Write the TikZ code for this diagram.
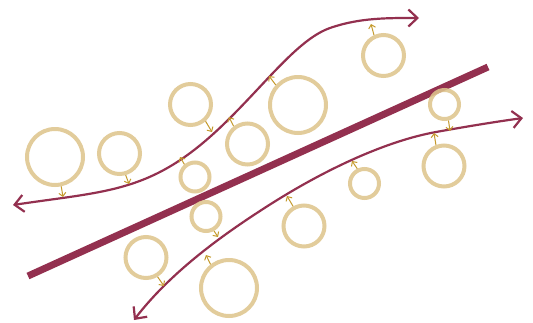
\documentclass[tikz,border=0pt]{standalone}
\usepackage{xcolor}
\usepackage{tikz}
\usetikzlibrary{arrows.meta}
\definecolor{maroon}{HTML}{93304F}
\definecolor{sand}{HTML}{DEC58D}
\definecolor{ochre}{HTML}{C49A2C}

\begin{document}
\begin{tikzpicture}[x=1pt, y=-1pt,
    ring/.style={circle, draw=sand, line width=4pt, inner sep=0pt, draw opacity=0.88},
    ringL/.style={ring, minimum size=56pt},
    ringM/.style={ring, minimum size=41pt},
    ringS/.style={ring, minimum size=29pt},
    flow/.style={maroon, line width=2.2pt,
        {Straight Barb[length=9pt, width=17pt]}-{Straight Barb[length=9pt, width=17pt]}},
    push/.style={ochre, line width=1pt, -{Straight Barb[length=3.5pt, width=7pt]}}]
    \useasboundingbox (0,0) rectangle (533,322);

    % =================================================================
    % 1. Thanh chéo ở giữa
    % =================================================================
    \draw[maroon, line width=7pt] (28,276) -- (488,67);

    % Hai đường dòng chảy (mũi tên hai đầu)
    \draw[flow] (13,205) .. controls (113,190) and (155,193) .. (230,118)
        .. controls (270,78) and (300,38.5) .. (330,28)
        .. controls (360,17.5) and (389,18) .. (419,18);
    \draw[flow] (134,320) .. controls (174,267.6) and (233,228.5) .. (263,209)
        .. controls (323,170) and (386,141) .. (436,132)
        .. controls (465,126.8) and (494,122) .. (523,118);

    % Các điểm chạm trên đường dòng chảy
    \coordinate (p1) at (63,197);
    \coordinate (p2) at (129,184);
    \coordinate (p3) at (212,132);
    \coordinate (p4) at (229,117);
    \coordinate (p5) at (269,76);
    \coordinate (p6) at (371,24);
    \coordinate (p7) at (450,131);
    \coordinate (p8) at (434,133);
    \coordinate (p9) at (352,161);
    \coordinate (p10) at (287,196);
    \coordinate (p11) at (180,157);
    \coordinate (p12) at (218,237);
    \coordinate (p13) at (164,286);
    \coordinate (p14) at (206,255);

    % =================================================================
    % 2. Các vòng tròn
    % =================================================================
    \node[ringL] (c1) at (55,157) {};
    \node[ringM] (c2) at (119.5,153.5) {};
    \node[ringM] (c3) at (190.5,104.5) {};
    \node[ringM] (c4) at (247.5,144) {};
    \node[ringL] (c5) at (298,105) {};
    \node[ringM] (c6) at (383.5,55.5) {};
    \node[ringS] (c7) at (444.5,104.5) {};
    \node[ringM] (c8) at (444,166) {};
    \node[ringS] (c9) at (364.5,183.5) {};
    \node[ringM] (c10) at (304,226) {};
    \node[ringS] (c11) at (195,177) {};
    \node[ringS] (c12) at (206,216.5) {};
    \node[ringM] (c13) at (146,257.5) {};
    \node[ringL] (c14) at (229,288) {};

    % Mũi tên nhỏ từ vòng tròn tới đường dòng chảy
    \draw[push] (c1.-78) -- (p1);
    \draw[push] (c2.-74) -- (p2);
    \draw[push] (c3.-48) -- (p3);
    \draw[push] (c4.128) -- (p4);
    \draw[push] (c5.138) -- (p5);
    \draw[push] (c6.115) -- (p6);
    \draw[push] (c7.-76) -- (p7);
    \draw[push] (c8.111) -- (p8);
    \draw[push] (c9.116) -- (p9);
    \draw[push] (c10.119) -- (p10);
    \draw[push] (c11.130) -- (p11);
    \draw[push] (c12.-61) -- (p12);
    \draw[push] (c13.-59) -- (p13);
    \draw[push] (c14.128) -- (p14);
\end{tikzpicture}
\end{document}
